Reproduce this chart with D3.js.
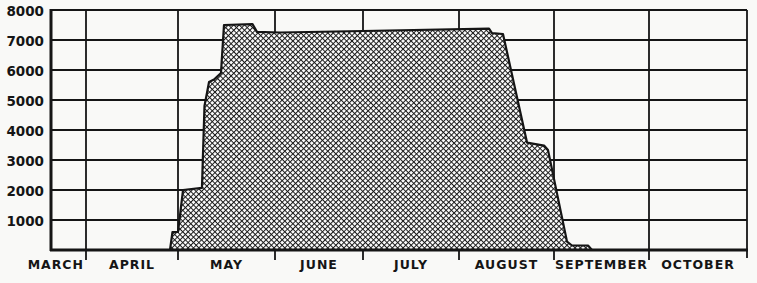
<!DOCTYPE html>
<html>
<head>
<meta charset="utf-8">
<script src="https://cdn.jsdelivr.net/npm/d3@7"></script>
<style>
    body { margin: 0; background: #f9f9f7; }
    svg { display: block; }
    text { font-family: "DejaVu Sans", sans-serif; font-weight: bold; fill: #151515; }
</style>
</head>
<body>
<svg id="svg" width="757" height="283"></svg>
<script>
// month labels and month boundaries (April 1 = 4, May 1 = 5 ...)
const monthNames = ['MARCH', 'APRIL', 'MAY', 'JUNE', 'JULY', 'AUGUST', 'SEPTEMBER', 'OCTOBER']
const monthBounds = [3.62, 4, 5, 6, 7, 8, 9, 10, 11]
const yTicks = [1000, 2000, 3000, 4000, 5000, 6000, 7000, 8000]

// series
const monthPos = [4.913, 4.940, 5.0, 5.052, 5.247, 5.273, 5.320, 5.371, 5.443, 5.474,
    5.768, 5.814, 6.057, 7.0, 8.316, 8.347, 8.463, 8.716, 8.895, 8.937,
    9.137, 9.189, 9.358, 9.400]
const counts = [0, 600, 600, 2000, 2070, 4800, 5600, 5680, 5900, 7500,
    7530, 7270, 7250, 7300, 7380, 7230, 7200, 3580, 3480, 3330,
    280, 150, 150, 0]

const data = monthPos.map((m, i) => ({ m: m, v: counts[i] }))

// the hand drawn months are not all the same width
const x = d3.scaleLinear()
    .domain(monthBounds)
    .range([51, 86, 178, 275, 363, 459, 554, 649, 747])
const y = d3.scaleLinear().domain([0, 8000]).range([250, 10])

const svg = d3.select('#svg')
const ink = '#151515'

// cross hatch
const pat = svg.append('defs').append('pattern')
    .attr('id', 'hatch')
    .attr('patternUnits', 'userSpaceOnUse')
    .attr('width', 3.8)
    .attr('height', 3.8)
    .attr('patternTransform', 'rotate(45)')
pat.append('rect').attr('width', 3.8).attr('height', 3.8).attr('fill', '#fdfdfd')
pat.append('rect').attr('width', 3.8).attr('height', 1.0).attr('fill', '#1a1a1a')
pat.append('rect').attr('width', 1.0).attr('height', 3.8).attr('fill', '#1a1a1a')

// horizontal grid
svg.append('g')
    .selectAll('line')
    .data(yTicks.slice(0, -1))
    .enter()
    .append('line')
    .attr('x1', x.range()[0])
    .attr('x2', x.range()[x.range().length - 1])
    .attr('y1', (d) => y(d))
    .attr('y2', (d) => y(d))
    .attr('stroke', ink)
    .attr('stroke-width', 2)

// month lines, running down through the axis as ticks
svg.append('g')
    .selectAll('line')
    .data(monthBounds.slice(1))
    .enter()
    .append('line')
    .attr('x1', (d) => x(d))
    .attr('x2', (d) => x(d))
    .attr('y1', y(8000))
    .attr('y2', (d, i) => i === monthBounds.length - 2 ? 258 : 260)
    .attr('stroke', ink)
    .attr('stroke-width', 1.8)

// top border
svg.append('line')
    .attr('x1', x.range()[0]).attr('x2', x.range()[x.range().length - 1])
    .attr('y1', y(8000)).attr('y2', y(8000))
    .attr('stroke', ink).attr('stroke-width', 2.2)

// area
svg.append('path')
    .datum(data)
    .attr('d', d3.area().x((d) => x(d.m)).y0(y(0)).y1((d) => y(d.v)))
    .attr('fill', 'url(#hatch)')
svg.append('path')
    .datum(data)
    .attr('d', d3.line().x((d) => x(d.m)).y((d) => y(d.v)))
    .attr('fill', 'none')
    .attr('stroke', ink)
    .attr('stroke-width', 2.2)
    .attr('stroke-linejoin', 'round')

// axes
svg.append('line')
    .attr('x1', x.range()[0]).attr('x2', x.range()[0])
    .attr('y1', y(8000) - 1).attr('y2', y(0) + 1)
    .attr('stroke', ink).attr('stroke-width', 3)
svg.append('line')
    .attr('x1', x.range()[0] - 1).attr('x2', x.range()[x.range().length - 1] + 1)
    .attr('y1', y(0)).attr('y2', y(0))
    .attr('stroke', ink).attr('stroke-width', 3)

// y labels
svg.append('g')
    .selectAll('text')
    .data(yTicks)
    .enter()
    .append('text')
    .attr('x', 44)
    .attr('y', (d) => y(d) + 1)
    .attr('dy', '0.35em')
    .attr('text-anchor', 'end')
    .style('font-size', '13.5px')
    .text((d) => d)

// month labels
svg.append('g')
    .selectAll('text')
    .data(monthNames)
    .enter()
    .append('text')
    .attr('x', (d, i) => i === 0 ? x(monthBounds[1]) - 2 : (x(monthBounds[i]) + x(monthBounds[i + 1])) / 2)
    .attr('y', 269)
    .attr('text-anchor', (d, i) => i === 0 ? 'end' : 'middle')
    .style('font-size', '12.5px')
    .style('letter-spacing', '1px')
    .text((d) => d)
</script>
</body>
</html>
